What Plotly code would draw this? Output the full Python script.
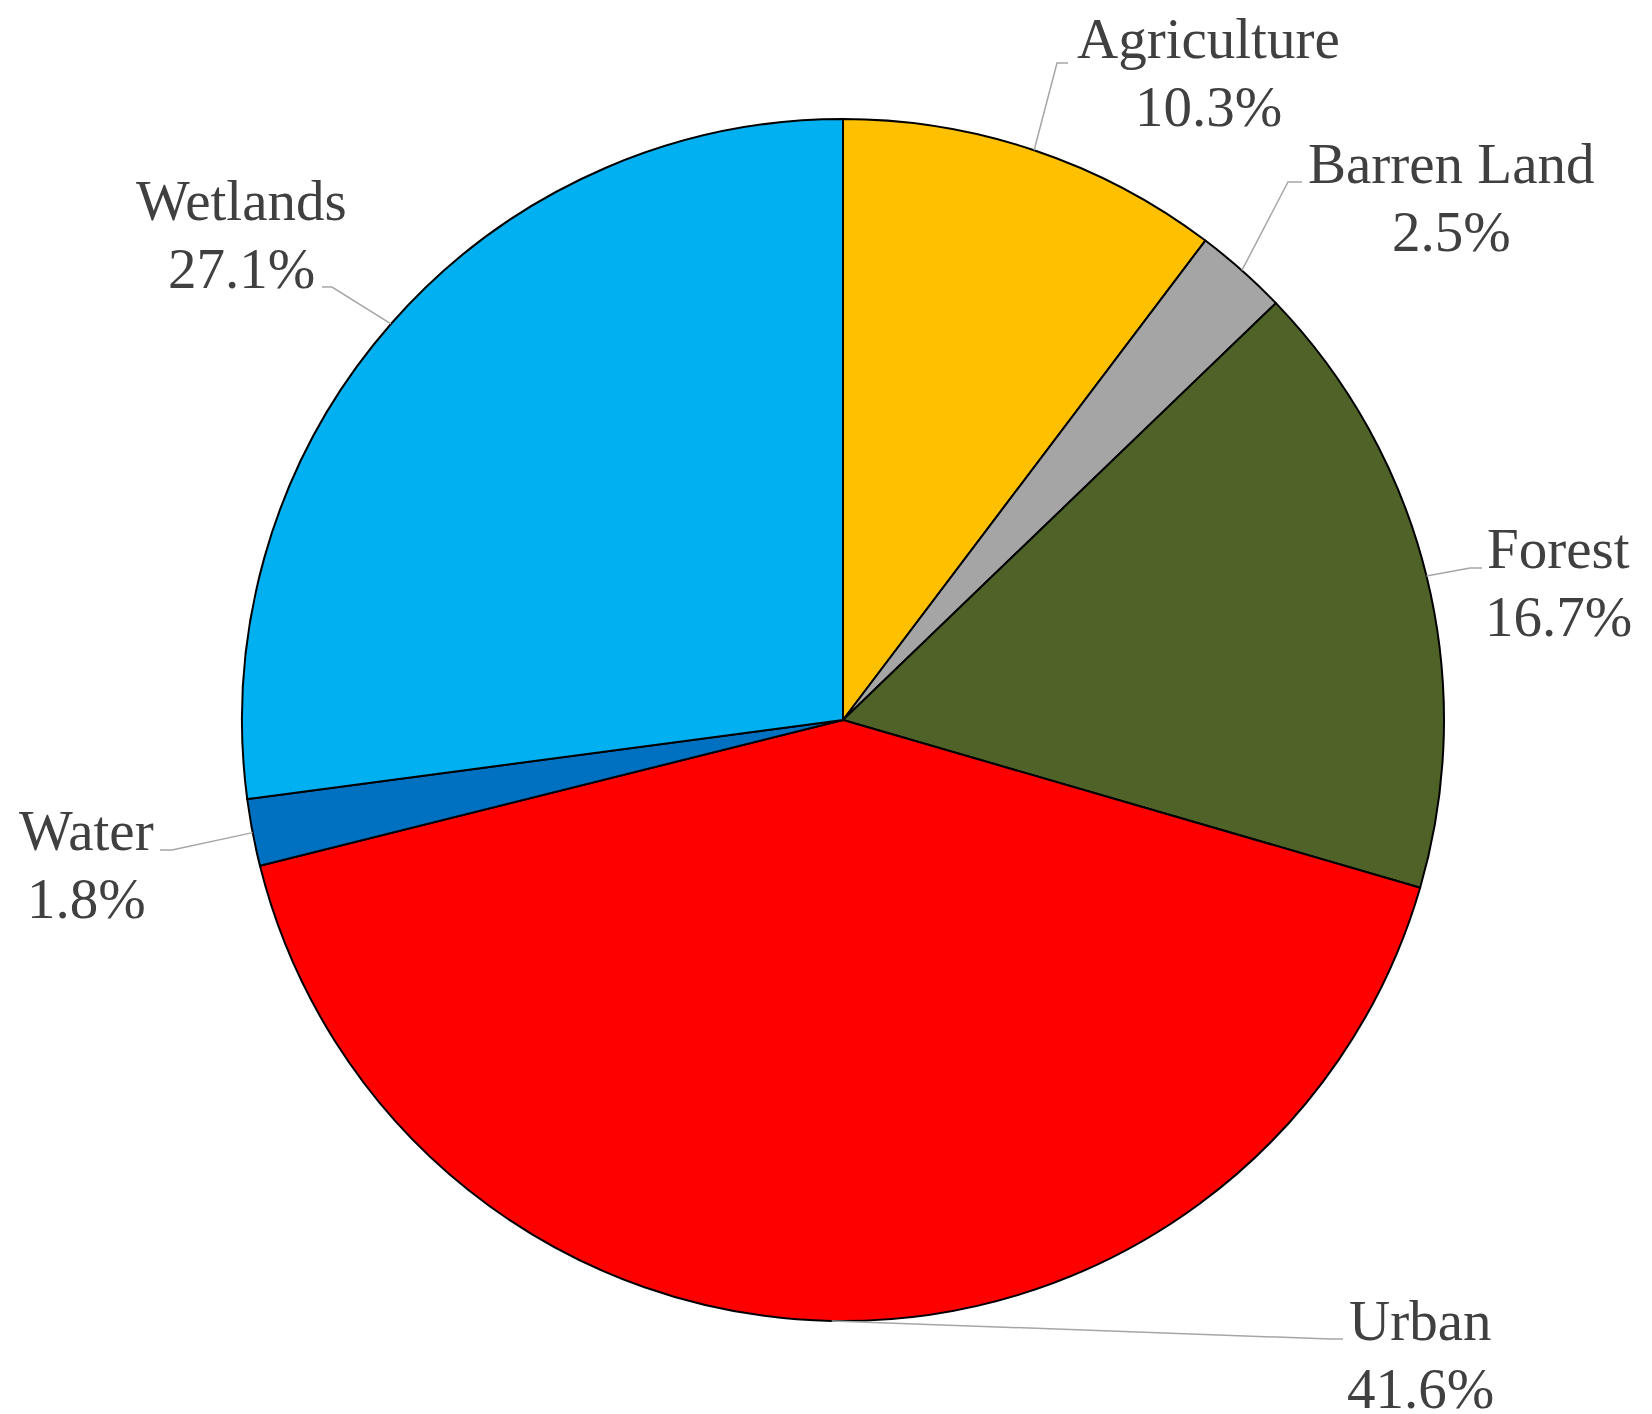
import math
import plotly.graph_objects as go

# ---- data ----
categories = ["Agriculture", "Barren Land", "Forest", "Urban", "Water", "Wetlands"]
shares = [10.3, 2.5, 16.7, 41.6, 1.8, 27.1]  # percent
colors = ["#FFC000", "#A5A5A5", "#4F6228", "#FF0000", "#0070C0", "#00B0F0"]

# ---- layout geometry (pixels) ----
W, H = 1652, 1414
ML, MR, MT, MB = 242, 208, 119, 93
PW, PH = W - ML - MR, H - MT - MB
CX, CY = ML + PW / 2, MT + PH / 2
R = min(PW, PH) / 2

FONT = "Liberation Serif"
FS = 57
TXT = "#404040"

# label placement: elbow point, end point, text center x, first baseline y
label_pos = {
    "Agriculture": dict(elbow=(1057, 63), end=(1068, 63), tx=1208, base=58),
    "Barren Land": dict(elbow=(1288, 182), end=(1302, 182), tx=1451, base=183),
    "Forest": dict(elbow=(1470, 568), end=(1482, 568), tx=1558, base=568),
    "Urban": dict(elbow=(1330, 1339), end=(1343, 1339), tx=1420, base=1340),
    "Water": dict(elbow=(172, 850), end=(160, 850), tx=86, base=850),
    "Wetlands": dict(elbow=(332, 287), end=(322, 287), tx=241, base=220),
}
LINE_GAP = 68


def px2x(px):
    return (px - ML) / PW


def px2y(py):
    return (H - MB - py) / PH


fig = go.Figure(go.Pie(
    labels=categories,
    values=shares,
    sort=False,
    direction="clockwise",
    rotation=0,
    marker=dict(colors=colors, line=dict(color="#000000", width=2)),
    textinfo="none",
    hoverinfo="label+percent",
    showlegend=False,
    domain=dict(x=[0, 1], y=[0, 1]),
))

shapes = []
annotations = []
total = sum(shares)
cum = 0.0
for cat, v in zip(categories, shares):
    mid = (cum + v / 2) / total * 2 * math.pi
    cum += v
    sx = CX + R * math.sin(mid)
    sy = CY - R * math.cos(mid)
    p = label_pos[cat]
    ex, ey = p["elbow"]
    nx, ny = p["end"]
    path = "M {} {} L {} {} L {} {}".format(px2x(sx), px2y(sy), px2x(ex), px2y(ey), px2x(nx), px2y(ny))
    shapes.append(dict(type="path", xref="paper", yref="paper", path=path,
                       line=dict(color="#A6A6A6", width=1.5)))
    for i, t in enumerate([cat, "{:.1f}%".format(v)]):
        base = p["base"] + i * LINE_GAP
        annotations.append(dict(
            text=t, xref="paper", yref="paper",
            x=px2x(p["tx"]), y=px2y(base - 0.3375 * FS),
            xanchor="center", yanchor="middle", showarrow=False,
            font=dict(family=FONT, size=FS, color=TXT),
        ))

fig.update_layout(
    width=W, height=H,
    margin=dict(l=ML, r=MR, t=MT, b=MB, pad=0),
    paper_bgcolor="white", plot_bgcolor="white",
    shapes=shapes, annotations=annotations,
)

fig.write_html("out.html")
